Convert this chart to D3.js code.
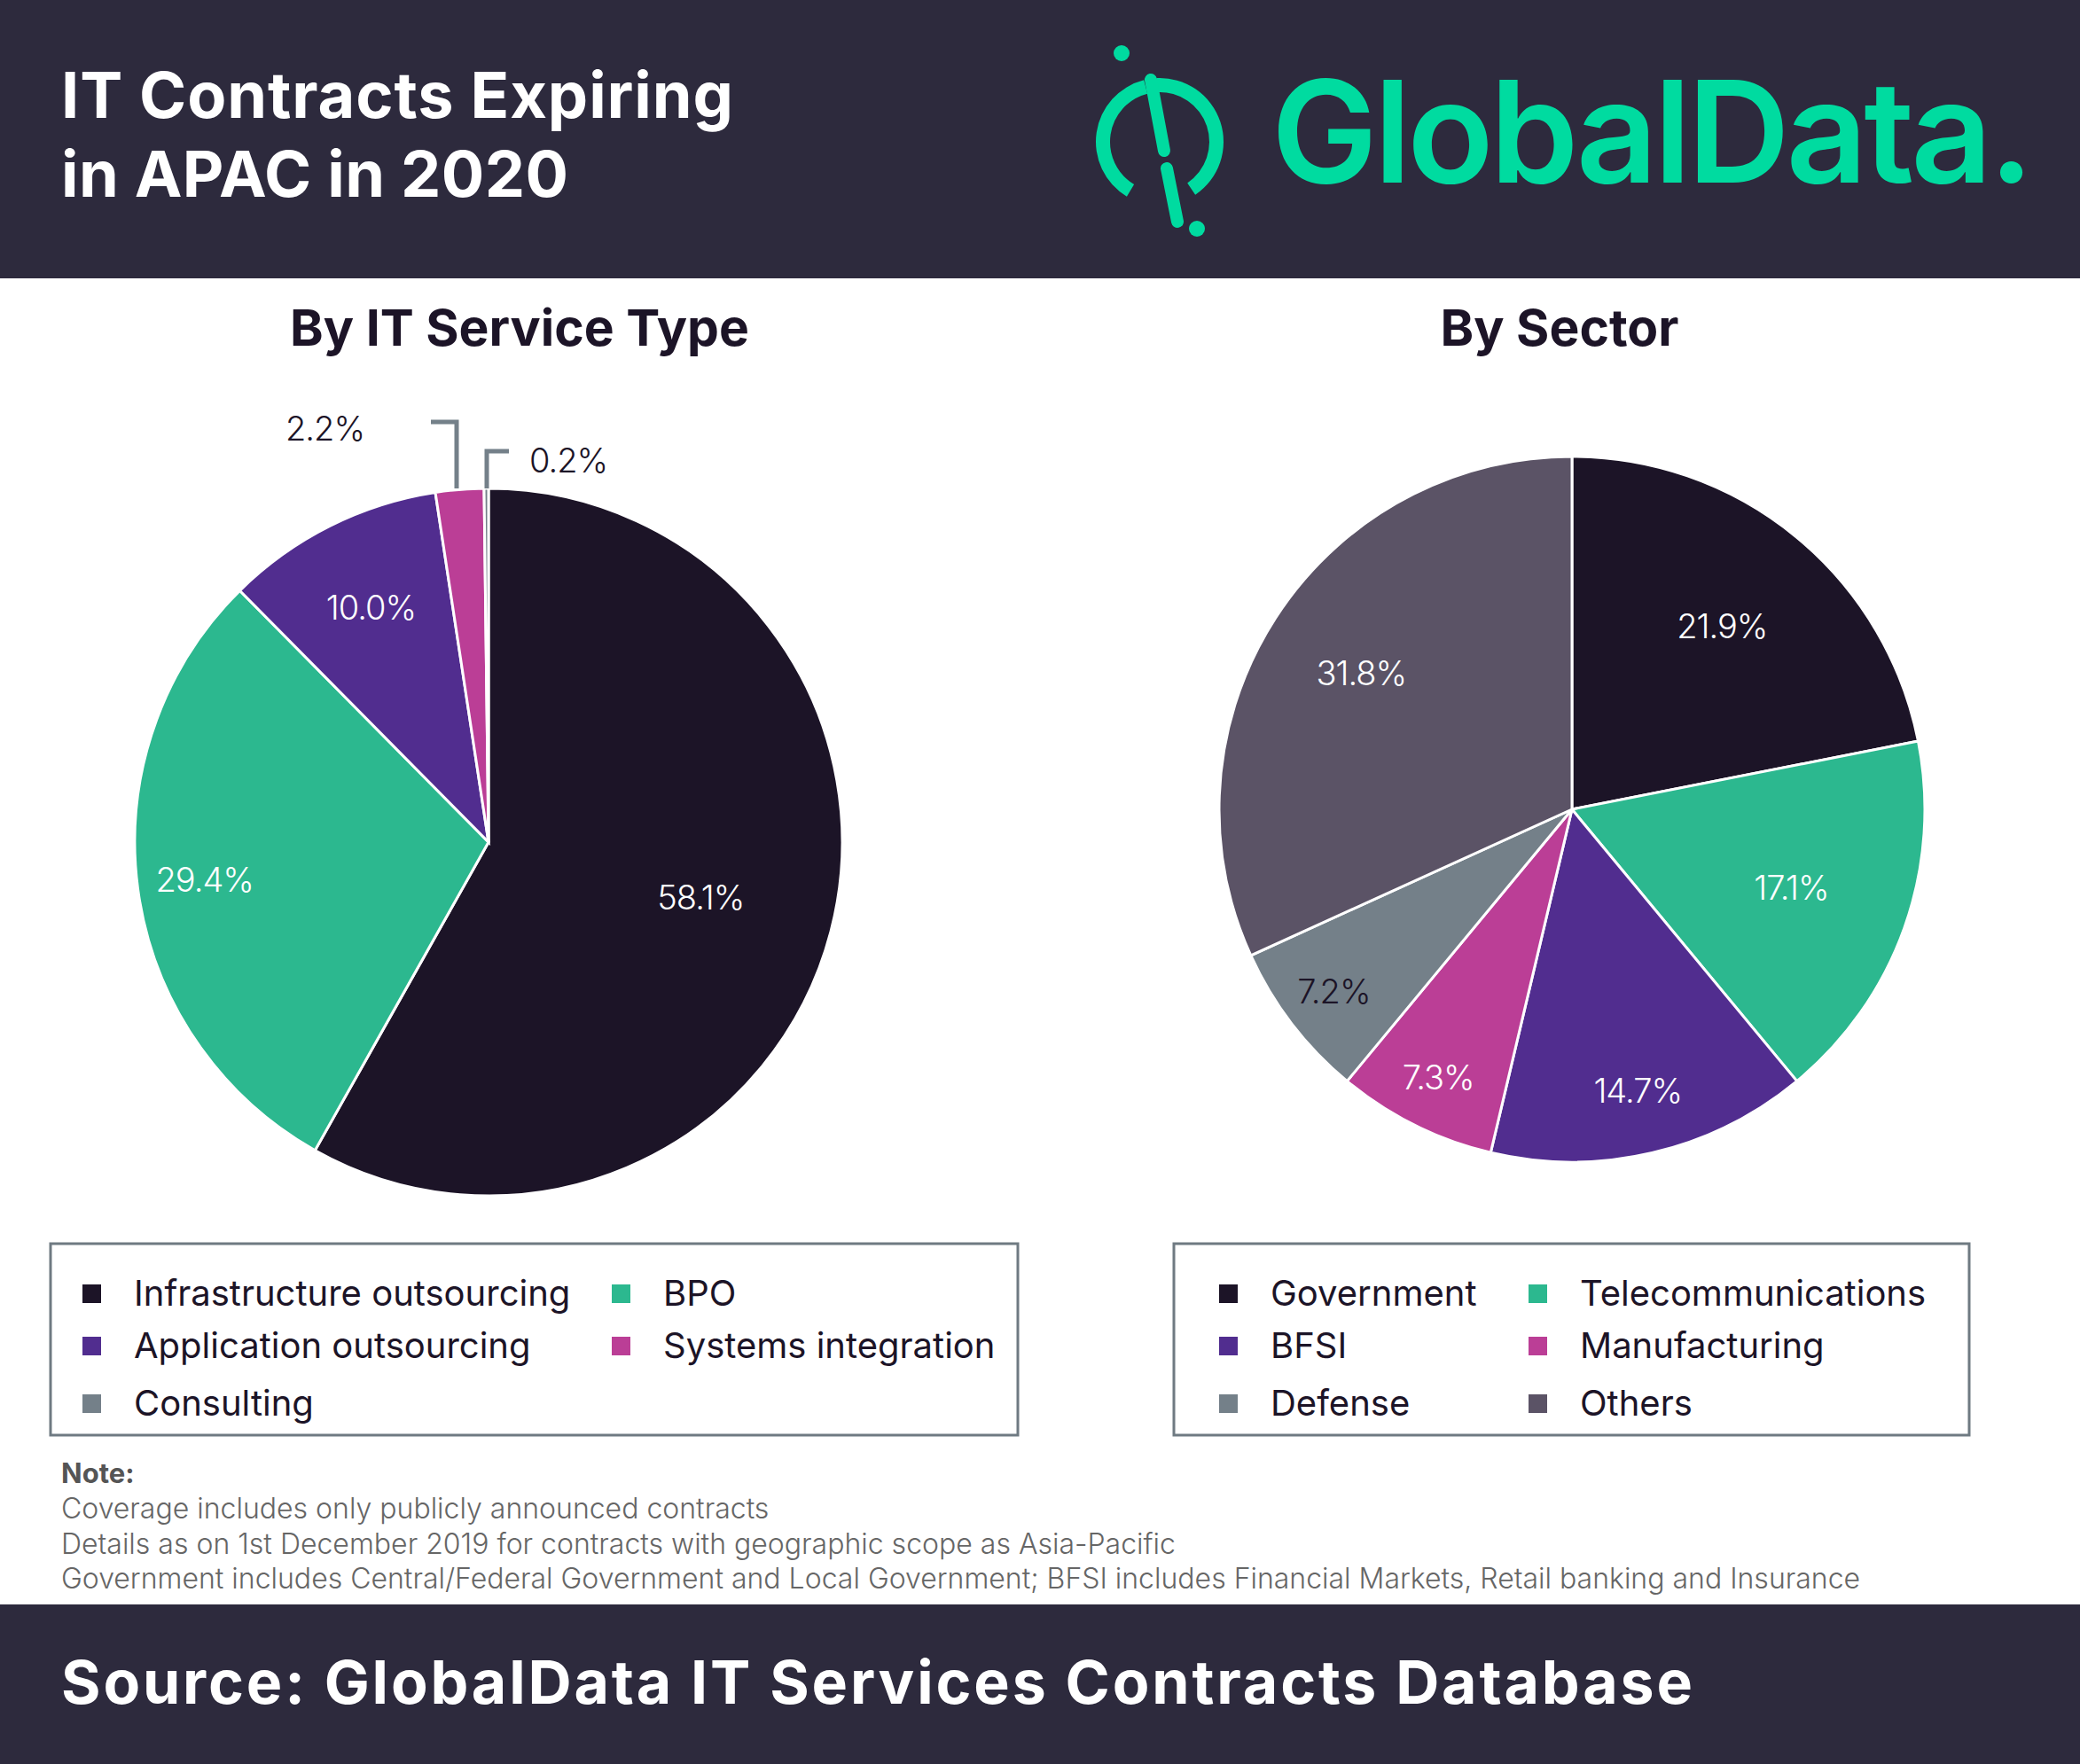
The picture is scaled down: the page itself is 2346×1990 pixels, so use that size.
<!DOCTYPE html>
<html><head><meta charset="utf-8">
<script src="https://cdn.jsdelivr.net/npm/d3@7"></script>
<style>body{margin:0;background:#fff}text{font-family:Inter,"Open Sans",sans-serif}</style>
</head><body><svg></svg>
<script>
let width = 2346, height = 1990;

let serviceTypes = ['Infrastructure outsourcing', 'BPO', 'Application outsourcing', 'Systems integration', 'Consulting'];
let serviceValues = [58.1, 29.4, 10.0, 2.2, 0.2];
let sectors = ['Government', 'Telecommunications', 'BFSI', 'Manufacturing', 'Defense', 'Others'];
let sectorValues = [21.9, 17.1, 14.7, 7.3, 7.2, 31.8];
let notes = ['Coverage includes only publicly announced contracts',
  'Details as on 1st December 2019 for contracts with geographic scope as Asia-Pacific',
  'Government includes Central/Federal Government and Local Government; BFSI includes Financial Markets, Retail banking and Insurance'];

let colors = { dark: '#1c1427', green: '#2cb88f', purple: '#512d8f', pink: '#bb3e96', gray: '#748089', others: '#5b5366' };
let serviceColor = d3.scaleOrdinal().domain(serviceTypes)
  .range([colors.dark, colors.green, colors.purple, colors.pink, colors.gray]);
let sectorColor = d3.scaleOrdinal().domain(sectors)
  .range([colors.dark, colors.green, colors.purple, colors.pink, colors.gray, colors.others]);

let svg = d3.select('svg').attr('width', width).attr('height', height);

// header
svg.append('rect').attr('width', width).attr('height', 314).attr('fill', '#2d2a3d');
svg.append('text').attr('x', 69).attr('y', 133).attr('fill', '#fff').attr('textLength', 758).style('font-size', '72px').style('font-weight', 700).text('IT Contracts Expiring');
svg.append('text').attr('x', 69).attr('y', 222).attr('fill', '#fff').attr('textLength', 572).style('font-size', '72px').style('font-weight', 700).text('in APAC in 2020');

// logo
let green = '#00dba0';
let logo = svg.append('g').attr('transform', 'translate(1308,160)');
logo.append('path').attr('d', d3.arc().innerRadius(56).outerRadius(72).startAngle(-2.6).endAngle(-0.25)()).attr('fill', green);
logo.append('path').attr('d', d3.arc().innerRadius(56).outerRadius(72).startAngle(-0.05).endAngle(2.55)()).attr('fill', green);
logo.append('line').attr('x1', -10).attr('y1', -70).attr('x2', 5).attr('y2', 10).attr('stroke', green).attr('stroke-width', 14).attr('stroke-linecap', 'round');
logo.append('line').attr('x1', 8).attr('y1', 30).attr('x2', 20).attr('y2', 90).attr('stroke', green).attr('stroke-width', 14).attr('stroke-linecap', 'round');
logo.append('circle').attr('cx', -43).attr('cy', -100).attr('r', 9).attr('fill', green);
logo.append('circle').attr('cx', 42).attr('cy', 98).attr('r', 9).attr('fill', green);
svg.append('text').attr('x', 1434).attr('y', 206).attr('fill', green).attr('textLength', 858)
  .style('font-size', '160px').style('font-weight', 600).style('letter-spacing', '-2px').text('GlobalData.');

// subtitles
svg.append('text').attr('x', 586).attr('y', 390).attr('text-anchor', 'middle').attr('fill', '#1c1427').style('font-size', '57px').style('font-weight', 700).text('By IT Service Type');
svg.append('text').attr('x', 1759).attr('y', 390).attr('text-anchor', 'middle').attr('fill', '#1c1427').style('font-size', '57px').style('font-weight', 700).text('By Sector');

let pie = d3.pie().sort(null).value(d => d.value);

function drawPie(cx, cy, r, names, values, color, labelK, darkLabels, skip) {
  let data = pie(names.map((n, i) => ({ name: n, value: values[i] })));
  let g = svg.append('g').attr('transform', `translate(${cx},${cy})`);
  g.selectAll('path').data(data).enter().append('path')
    .attr('d', d3.arc().innerRadius(0).outerRadius(r))
    .attr('fill', d => color(d.data.name))
    .attr('stroke', '#fff').attr('stroke-width', 3);
  g.selectAll('text.lbl').data(data.filter(d => !skip.includes(d.data.name))).enter().append('text')
    .attr('class', 'lbl')
    .attr('transform', d => {
      let k = labelK[names.indexOf(d.data.name)];
      let c = d3.arc().innerRadius(r * k).outerRadius(r * k).centroid(d);
      return `translate(${c})`;
    })
    .attr('text-anchor', 'middle').attr('dy', '0.35em')
    .attr('fill', d => darkLabels.includes(d.data.name) ? '#1c1427' : '#fff')
    .style('font-size', '38px').style('font-weight', 300).style('letter-spacing', '-1px')
    .text(d => d.data.value.toFixed(1) + '%');
  return data;
}

drawPie(551, 950, 399, serviceTypes, serviceValues, serviceColor, [0.62, 0.81, 0.74, 0, 0], [], ['Systems integration', 'Consulting']);
drawPie(1773, 913, 398, sectors, sectorValues, sectorColor, [0.67, 0.66, 0.82, 0.85, 0.85, 0.71], ['Defense'], []);

// outside labels for small slices
svg.append('path').attr('d', 'M486,476H515V551').attr('fill', 'none').attr('stroke', colors.gray).attr('stroke-width', 5);
svg.append('path').attr('d', 'M574,509H549V551').attr('fill', 'none').attr('stroke', colors.gray).attr('stroke-width', 5);
svg.append('text').attr('x', 411).attr('y', 497).attr('text-anchor', 'end').attr('fill', '#1c1427').style('font-size', '38px').style('font-weight', 300).style('letter-spacing', '-1px').text(serviceValues[3].toFixed(1) + '%');
svg.append('text').attr('x', 597).attr('y', 533).attr('fill', '#1c1427').style('font-size', '38px').style('font-weight', 300).style('letter-spacing', '-1px').text(serviceValues[4].toFixed(1) + '%');

// legends
function legend(x, w, names, color, col1, col2) {
  svg.append('rect').attr('x', x).attr('y', 1403).attr('width', w).attr('height', 216)
    .attr('fill', 'none').attr('stroke', '#6f7a82').attr('stroke-width', 3);
  let rows = [1459, 1518, 1583];
  let g = svg.append('g');
  names.forEach((n, i) => {
    let cx = i % 2 === 0 ? col1 : col2;
    let y = rows[Math.floor(i / 2)];
    g.append('rect').attr('x', cx).attr('y', y - 10).attr('width', 21).attr('height', 21).attr('fill', color(n));
    g.append('text').attr('x', cx + 58).attr('y', y).attr('dy', '0.35em').attr('fill', '#1c1427')
      .style('font-size', '40px').style('font-weight', 400).text(n);
  });
}
legend(57, 1091, serviceTypes, serviceColor, 93, 690);
legend(1324, 897, sectors, sectorColor, 1375, 1724);

// notes
svg.append('text').attr('x', 69).attr('y', 1673).attr('fill', '#555').style('font-size', '31px').style('font-weight', 700).text('Note:');
notes.forEach((t, i) => svg.append('text').attr('x', 69).attr('y', 1713 + i * 39.5).attr('fill', '#666')
  .style('font-size', '32px').style('font-weight', 300).text(t));

// footer
svg.append('rect').attr('y', 1810).attr('width', width).attr('height', 180).attr('fill', '#2d2a3d');
svg.append('text').attr('x', 69).attr('y', 1922).attr('fill', '#fff').attr('textLength', 1840).style('font-size', '68px').style('font-weight', 700).text('Source: GlobalData IT Services Contracts Database');
</script></body></html>
